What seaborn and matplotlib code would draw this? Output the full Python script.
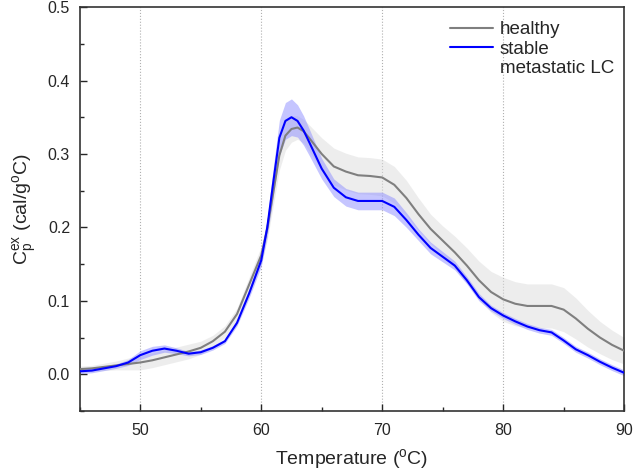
import numpy as np
import pandas as pd
import matplotlib
matplotlib.use('Agg')
import matplotlib.pyplot as plt
import seaborn as sns
from matplotlib.lines import Line2D
from matplotlib.ticker import MultipleLocator, FormatStrFormatter

# Temperature grid (deg C)
temperature = [45, 46, 47, 48, 49, 50, 51, 52, 53, 54, 55, 56, 57, 58, 59, 60, 60.5, 61,
               61.5, 62, 62.5, 63, 63.5, 64, 65, 66, 67, 68, 69, 70, 71, 72, 73, 74,
               75, 76, 77, 78, 79, 80, 81, 82, 83, 84, 85, 86, 87, 88, 89, 90]

# healthy mean thermogram and spread
healthy = [0.007, 0.008, 0.010, 0.012, 0.014, 0.016, 0.019, 0.023, 0.027, 0.031, 0.036,
           0.045, 0.058, 0.082, 0.122, 0.162, 0.198, 0.248, 0.298, 0.325, 0.334, 0.336,
           0.331, 0.321, 0.300, 0.283, 0.276, 0.271, 0.270, 0.268, 0.258, 0.240, 0.218,
           0.198, 0.182, 0.166, 0.148, 0.128, 0.112, 0.102, 0.096, 0.093, 0.093, 0.093,
           0.088, 0.076, 0.062, 0.050, 0.040, 0.032]
healthy_sd = [0.004, 0.004, 0.005, 0.006, 0.008, 0.010, 0.010, 0.010, 0.010, 0.010, 0.009,
              0.008, 0.008, 0.008, 0.010, 0.012, 0.015, 0.018, 0.020, 0.020, 0.018, 0.016,
              0.016, 0.018, 0.022, 0.025, 0.025, 0.025, 0.025, 0.025, 0.025, 0.024, 0.022,
              0.020, 0.020, 0.022, 0.024, 0.026, 0.028, 0.030, 0.030, 0.030, 0.030, 0.030,
              0.030, 0.028, 0.025, 0.022, 0.020, 0.018]

# stable metastatic LC mean thermogram and spread
metastatic = [0.004, 0.005, 0.008, 0.011, 0.016, 0.026, 0.032, 0.035, 0.032, 0.028, 0.030,
              0.036, 0.045, 0.070, 0.110, 0.155, 0.200, 0.262, 0.322, 0.345, 0.350, 0.345,
              0.332, 0.315, 0.280, 0.254, 0.241, 0.236, 0.236, 0.236, 0.228, 0.210, 0.190,
              0.172, 0.160, 0.148, 0.128, 0.105, 0.090, 0.080, 0.072, 0.065, 0.060, 0.057,
              0.046, 0.034, 0.026, 0.017, 0.009, 0.002]
metastatic_sd = [0.003, 0.003, 0.003, 0.003, 0.004, 0.006, 0.006, 0.005, 0.004, 0.003, 0.003,
                 0.003, 0.003, 0.004, 0.006, 0.008, 0.012, 0.020, 0.024, 0.025, 0.025, 0.022,
                 0.020, 0.018, 0.014, 0.012, 0.012, 0.012, 0.012, 0.012, 0.012, 0.010, 0.008,
                 0.008, 0.007, 0.006, 0.005, 0.005, 0.004, 0.004, 0.004, 0.004, 0.004, 0.004,
                 0.004, 0.004, 0.004, 0.004, 0.004, 0.004]

df = pd.DataFrame({
    'T': temperature * 2,
    'Cp': healthy + metastatic,
    'sd': healthy_sd + metastatic_sd,
    'group': ['healthy'] * len(temperature) + ['stable metastatic LC'] * len(temperature),
})

sns.set_style('ticks')
plt.rcParams['font.family'] = ['Liberation Sans', 'DejaVu Sans']
plt.rcParams['mathtext.fontset'] = 'custom'
plt.rcParams['mathtext.rm'] = 'Liberation Sans'

fig = plt.figure(figsize=(6.33, 4.74), dpi=100)
ax = fig.add_axes([0.126, 0.133, 0.86, 0.852])

palette = {'healthy': '#7f7f7f', 'stable metastatic LC': '#0000ff'}
bands = {'healthy': '#dcdcdc', 'stable metastatic LC': '#8c8cff'}

for g, sub in df.groupby('group', sort=False):
    ax.fill_between(sub['T'], sub['Cp'] - sub['sd'], sub['Cp'] + sub['sd'],
                    color=bands[g], alpha=0.5, linewidth=0, zorder=1)

sns.lineplot(data=df, x='T', y='Cp', hue='group', palette=palette, linewidth=1.5,
             ax=ax, zorder=3, legend=False)

for x in [50, 60, 70, 80]:
    ax.axvline(x, color='#b0b0b0', linestyle=':', linewidth=0.8, zorder=0)

ax.set_xlim(45, 90)
ax.set_ylim(-0.05, 0.5)
ax.xaxis.set_major_locator(MultipleLocator(10))
ax.xaxis.set_minor_locator(MultipleLocator(5))
ax.yaxis.set_major_locator(MultipleLocator(0.1))
ax.yaxis.set_minor_locator(MultipleLocator(0.05))
ax.yaxis.set_major_formatter(FormatStrFormatter('%.1f'))
ax.tick_params(which='major', direction='in', length=5, width=1, labelsize=11.5)
ax.tick_params(axis='x', which='major', pad=9)
ax.tick_params(axis='y', which='major', pad=7)
ax.tick_params(which='minor', direction='in', length=3, width=1)
for s in ax.spines.values():
    s.set_linewidth(1.2)
    s.set_color('#333333')

ax.set_xlabel(r'Temperature ($\mathregular{^o}$C)', fontsize=14, labelpad=6)
ax.set_ylabel(r'C$\mathregular{_p^{ex}}$ (cal/g$\mathregular{^o}$C)', fontsize=14, labelpad=6)

# legend: blue handle sits next to the first line of the two-line label
handles = [Line2D([], [], color=palette['healthy'], lw=1.5),
           Line2D([], [], color=palette['stable metastatic LC'], lw=1.5),
           Line2D([], [], color='none')]
ax.legend(handles, ['healthy', 'stable', 'metastatic LC'], frameon=False,
          loc='upper left', fontsize=13.5, handlelength=2.3, handletextpad=0.35,
          labelspacing=0.12, borderpad=0, borderaxespad=0,
          bbox_to_anchor=(0.68, 0.965))

plt.savefig('out.png', dpi=100)
